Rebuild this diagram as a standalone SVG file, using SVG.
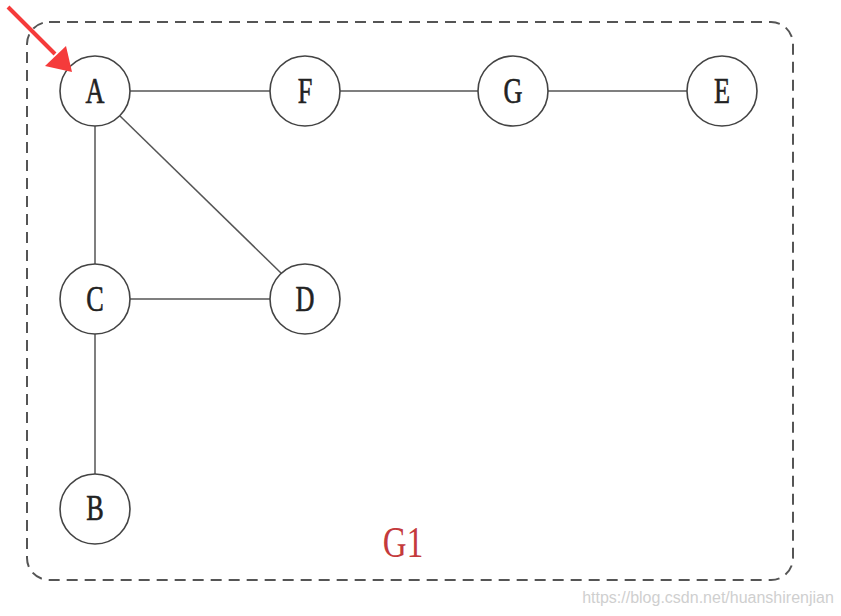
<svg xmlns="http://www.w3.org/2000/svg" width="841" height="616" viewBox="0 0 841 616">
<style>
.node circle{fill:#fff;stroke:#444;stroke-width:1.6}
.node text{font-family:"Liberation Serif",serif;font-size:35px;fill:#222;stroke:#222;stroke-width:0.6;text-anchor:middle}
.edge{stroke:#555;stroke-width:1.5;fill:none}
</style>
<rect width="841" height="616" fill="#fff"/>
<rect id="frame" x="27" y="22" width="766" height="558" rx="22" ry="22" fill="none" stroke="#555" stroke-width="2" stroke-dasharray="11 7"/>
<g id="connectors">
<line class="edge" x1="130" y1="91" x2="270" y2="91"/>
<line class="edge" x1="340" y1="91" x2="478" y2="91"/>
<line class="edge" x1="548" y1="91" x2="687" y2="91"/>
<line class="edge" x1="95" y1="126" x2="95" y2="264"/>
<line class="edge" x1="120" y1="116" x2="282" y2="274"/>
<line class="edge" x1="130" y1="299" x2="270" y2="299" stroke="#222" stroke-width="2"/>
<line class="edge" x1="95" y1="334" x2="95" y2="474"/>
</g>
<g id="node-A" class="node"><circle cx="95" cy="91" r="35"/><text x="95" y="103" transform="translate(95 0) scale(0.75 1) translate(-95 0)">A</text></g>
<g id="node-F" class="node"><circle cx="305" cy="91" r="35"/><text x="305" y="103" transform="translate(305 0) scale(0.75 1) translate(-305 0)">F</text></g>
<g id="node-G" class="node"><circle cx="513" cy="91" r="35"/><text x="513" y="103" transform="translate(513 0) scale(0.75 1) translate(-513 0)">G</text></g>
<g id="node-E" class="node"><circle cx="722" cy="91" r="35"/><text x="722" y="103" transform="translate(722 0) scale(0.75 1) translate(-722 0)">E</text></g>
<g id="node-C" class="node"><circle cx="95" cy="299" r="35"/><text x="95" y="311" transform="translate(95 0) scale(0.75 1) translate(-95 0)">C</text></g>
<g id="node-D" class="node"><circle cx="305" cy="299" r="35"/><text x="305" y="311" transform="translate(305 0) scale(0.75 1) translate(-305 0)">D</text></g>
<g id="node-B" class="node"><circle cx="95" cy="509" r="35"/><text x="95" y="520" transform="translate(95 0) scale(0.75 1) translate(-95 0)">B</text></g>
<g id="pointer">
<line x1="8" y1="7" x2="55" y2="54" stroke="#f53b3b" stroke-width="4"/>
<polygon points="72,72 45,66 66,46" fill="#f53b3b"/>
</g>
<text x="403" y="557" font-family="Liberation Serif,serif" font-size="44" fill="#c43a3c" text-anchor="middle" transform="translate(403 0) scale(0.75 1) translate(-403 0)">G1</text>
<text x="708" y="603" font-family="Liberation Sans,sans-serif" font-size="16" fill="#cfcfcf" text-anchor="middle">https://blog.csdn.net/huanshirenjian</text>
</svg>
